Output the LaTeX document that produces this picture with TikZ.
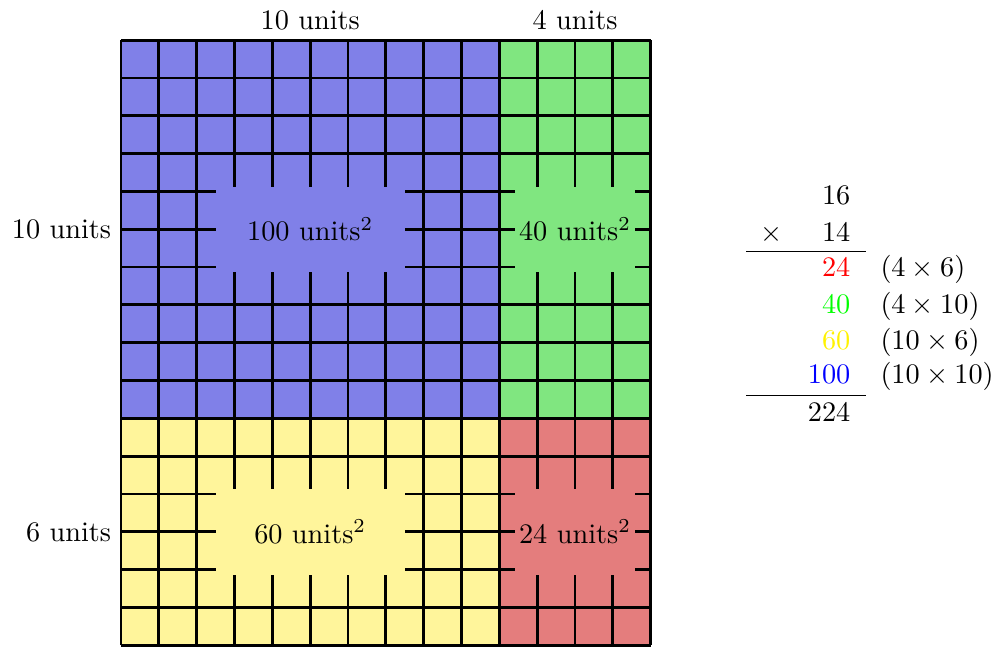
\documentclass[tikz,border=0pt]{standalone}
\definecolor{areablue}{RGB}{128,128,232}
\definecolor{areagreen}{RGB}{128,230,128}
\definecolor{areayellow}{RGB}{255,245,155}
\definecolor{areared}{RGB}{228,125,125}
\tikzset{
  arealabel/.style={inner xsep=1.5pt, inner ysep=0pt, minimum height=1.06cm},
}
\begin{document}
\begin{tikzpicture}[x=0.47cm,y=0.47cm]
\useasboundingbox (-3.2,-0.04) rectangle (23.18,17.06);

\fill[areablue] (0,6) rectangle (10,16);
\fill[areagreen] (10,6) rectangle (14,16);
\fill[areayellow] (0,0) rectangle (10,6);
\fill[areared] (10,0) rectangle (14,6);
\foreach \i in {0,...,14}
  \draw[line width=1pt] (\i,0) -- (\i,16);
\foreach \j in {0,...,16}
  \draw[line width=1pt] (0,\j) -- (14,\j);

\node[arealabel, fill=areablue, minimum width=2.35cm] (a100) at (5,11) {100 units$^2$};
\node[arealabel, fill=areagreen] (a40) at (12,11) {40 units$^2$};
\node[arealabel, fill=areayellow, minimum width=2.35cm] (a60) at (5,3) {60 units$^2$};
\node[arealabel, fill=areared] (a24) at (12,3) {24 units$^2$};

\node[above] (top10) at (5,16) {10 units};
\node[above] (top4) at (12,16) {4 units};
\node[left] (left10) at (0,11) {10 units};
\node[left] (left6) at (0,3) {6 units};

% long multiplication
\node[anchor=base east] (m16) at (19.54,11.65) {16};
\node[anchor=base east] (m14) at (19.54,10.68) {14};
\node[anchor=base] (times) at (17.18,10.68) {$\times$};
\node[anchor=base east, text=red] (p24) at (19.54,9.75) {24};
\node[anchor=base east, text=green] (p40) at (19.54,8.78) {40};
\node[anchor=base east, text=yellow] (p60) at (19.54,7.83) {60};
\node[anchor=base east, text=blue] (p100) at (19.54,6.91) {100};
\node[anchor=base east] (sum) at (19.54,5.92) {224};

\node[anchor=base west] (e24) at (19.81,9.75) {$(4\times6)$};
\node[anchor=base west] (e40) at (19.81,8.78) {$(4\times10)$};
\node[anchor=base west] (e60) at (19.81,7.83) {$(10\times6)$};
\node[anchor=base west] (e100) at (19.81,6.91) {$(10\times10)$};

\draw (16.52,10.42) -- (19.69,10.42);
\draw (16.52,6.61) -- (19.69,6.61);
\end{tikzpicture}
\end{document}
